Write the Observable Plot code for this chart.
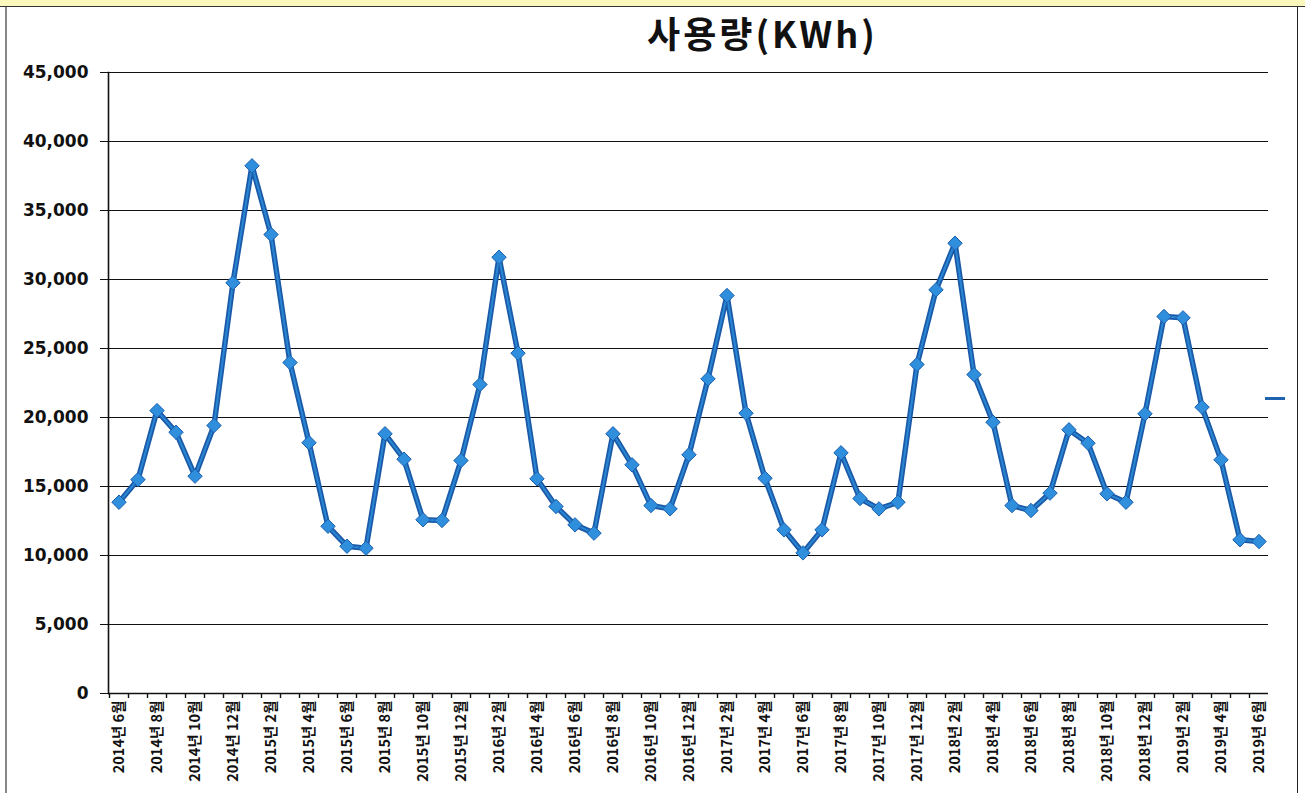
<!DOCTYPE html>
<html>
<head>
<meta charset="utf-8">
<script src="https://cdn.jsdelivr.net/npm/d3@7"></script>
<script src="https://cdn.jsdelivr.net/npm/@observablehq/plot@0.6"></script>
<style>
  html, body { margin: 0; padding: 0; background: #fff; }
  body { width: 1305px; height: 793px; position: relative; overflow: hidden; }
  #band { position: absolute; left: 0; top: 0; width: 1305px; height: 6px; background: #fbf7bd; border-bottom: 1.5px solid #333; }
  #lborder { position: absolute; left: 5px; top: 7px; width: 2px; height: 786px; background: #888; }
  #rborder { position: absolute; left: 1297px; top: 7px; width: 1px; height: 786px; background: #222; }
  #title { position: absolute; left: 0; width: 1305px; top: 6px; text-align: center; padding-left: 220px; box-sizing: border-box;
           font-family: "Noto Sans CJK KR", sans-serif; font-weight: 700; font-size: 36px; letter-spacing: 3px; color: #111; }
  #chart { position: absolute; left: 0; top: 0; }
  #dash { position: absolute; left: 1265px; top: 397px; width: 20px; height: 3px; background: #1f63b0; }
</style>
</head>
<body>
<div id="band"></div>
<div id="lborder"></div>
<div id="rborder"></div>
<div id="chart"></div>
<div id="title">사용량(KWh)</div>
<div id="dash"></div>
<script>
const months = [
  "2014년 6월","2014년 7월","2014년 8월","2014년 9월","2014년 10월","2014년 11월","2014년 12월",
  "2015년 1월","2015년 2월","2015년 3월","2015년 4월","2015년 5월","2015년 6월","2015년 7월","2015년 8월","2015년 9월","2015년 10월","2015년 11월","2015년 12월",
  "2016년 1월","2016년 2월","2016년 3월","2016년 4월","2016년 5월","2016년 6월","2016년 7월","2016년 8월","2016년 9월","2016년 10월","2016년 11월","2016년 12월",
  "2017년 1월","2017년 2월","2017년 3월","2017년 4월","2017년 5월","2017년 6월","2017년 7월","2017년 8월","2017년 9월","2017년 10월","2017년 11월","2017년 12월",
  "2018년 1월","2018년 2월","2018년 3월","2018년 4월","2018년 5월","2018년 6월","2018년 7월","2018년 8월","2018년 9월","2018년 10월","2018년 11월","2018년 12월",
  "2019년 1월","2019년 2월","2019년 3월","2019년 4월","2019년 5월","2019년 6월"
];
const usage = [
  13860, 15500, 20500, 18930, 15750, 19420, 29760,
  38240, 33260, 23980, 18170, 12120, 10670, 10530, 18820, 16980, 12590, 12540, 16880,
  22390, 31610, 24660, 15560, 13550, 12220, 11620, 18820, 16570, 13620, 13380, 17300,
  22800, 28840, 20310, 15600, 11860, 10190, 11860, 17440, 14130, 13380, 13860, 23840,
  29250, 32630, 23110, 19660, 13620, 13260, 14520, 19110, 18140, 14470, 13860, 20270,
  27320, 27220, 20750, 16930, 11140, 11010
];
const yTicks = [0, 5000, 10000, 15000, 20000, 25000, 30000, 35000, 40000, 45000];
const labelMonths = months.filter((d, i) => i % 2 === 0);

const data = months.map((m, i) => ({month: m, value: usage[i]}));
const fmt = d3.format(",");

const chart = Plot.plot({
  width: 1305,
  height: 793,
  marginTop: 72,
  marginBottom: 100,
  marginLeft: 108,
  marginRight: 37,
  style: {background: "transparent", overflow: "visible"},
  x: {type: "band", domain: months, padding: 0, align: 0.5},
  y: {domain: [0, 45000]},
  marks: [
    Plot.ruleY(yTicks, {stroke: "#111", strokeWidth: 1.2, strokeOpacity: 1}),
    Plot.axisY({ticks: yTicks, tickSize: 8, tickPadding: 12, tickFormat: fmt, label: null,
      fontSize: 17, fontWeight: "bold", fontFamily: "DejaVu Sans", stroke: "#111", fill: "#111"}),
    Plot.frame({anchor: "left", stroke: "#111", strokeWidth: 1.6}),
    Plot.ruleY([0], {stroke: "#111", strokeWidth: 1.6}),
    Plot.axisX({ticks: months, tickSize: 5, tickFormat: () => "", dx: -9.5, label: null, stroke: "#111", strokeWidth: 1.4}),
    Plot.axisX({ticks: labelMonths, tickSize: 0, tickPadding: 7, tickRotate: -90, label: null,
      fontSize: 14.5, fontWeight: "bold", fontFamily: "Noto Sans CJK KR", fill: "#111"}),
    Plot.line(data, {x: "month", y: "value", stroke: "#1a5aa8", strokeWidth: 5.5, strokeLinejoin: "round"}),
    Plot.line(data, {x: "month", y: "value", stroke: "#2a86d2", strokeWidth: 2, strokeLinejoin: "round"}),
    Plot.dot(data, {x: "month", y: "value", symbol: "diamond2", r: 6.5, fill: "#2f8fdc", stroke: "#1c5fae", strokeWidth: 1})
  ]
});
document.getElementById("chart").appendChild(chart);
</script>
</body>
</html>
